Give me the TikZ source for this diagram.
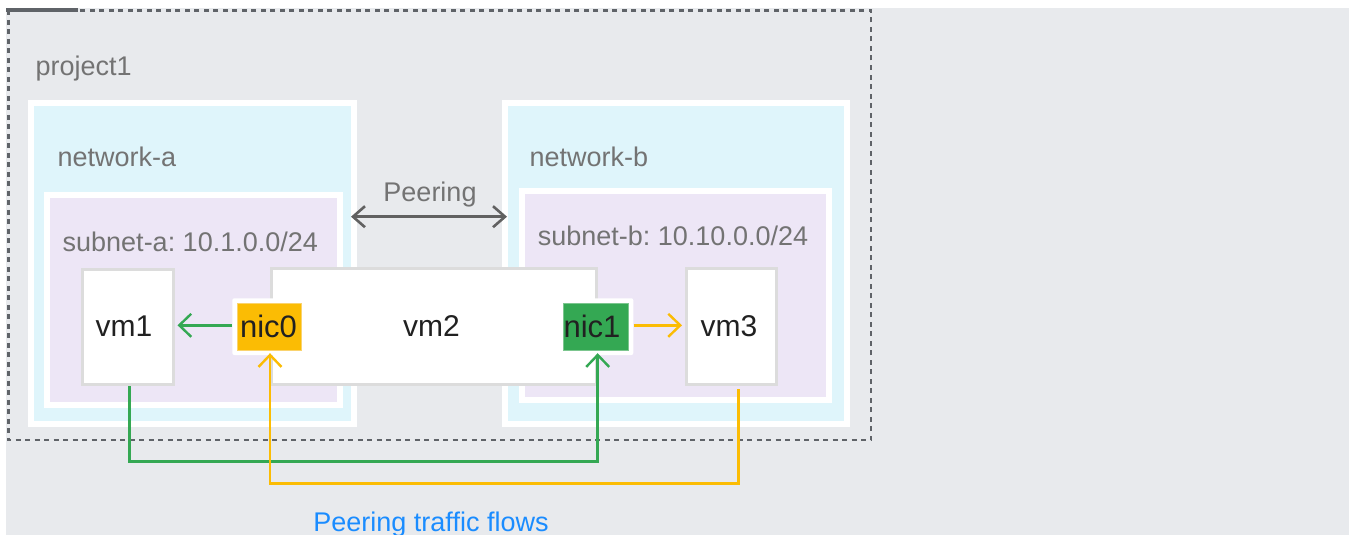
\documentclass[tikz,border=0pt]{standalone}
\usepackage{fontspec}
\setmainfont{Liberation Sans}
\usetikzlibrary{arrows.meta}
\frenchspacing

\definecolor{bggray}{HTML}{E8EAED}
\definecolor{framegray}{HTML}{5F6368}
\definecolor{labelgray}{HTML}{737373}
\definecolor{arrowgray}{HTML}{616161}
\definecolor{netcyan}{HTML}{DFF5FB}
\definecolor{sublav}{HTML}{EDE6F6}
\definecolor{vmborder}{HTML}{DCDCDC}
\definecolor{nicyellow}{HTML}{FBBC04}
\definecolor{nicyellowedge}{HTML}{FAD36E}
\definecolor{nicgreen}{HTML}{34A853}
\definecolor{nicgreenedge}{HTML}{7CC68F}
\definecolor{flowblue}{HTML}{1A8CFF}
\definecolor{textdark}{HTML}{212121}

\tikzset{
  netbox/.style={draw=white, line width=6pt, fill=netcyan, inner sep=0pt},
  subbox/.style={draw=white, line width=6pt, fill=sublav, inner sep=0pt},
  vmbox/.style={draw=vmborder, line width=3pt, fill=white, inner sep=0pt},
  nicpanel/.style={fill=white, rounded corners=2pt, inner sep=0pt},
  nicbox/.style={line width=0.8pt, inner sep=0pt},
  graylabel/.style={text=labelgray, inner sep=0pt,
    font=\fontsize{27}{31}\selectfont},
  vmtext/.style={text=textdark, inner sep=0pt, anchor=base,
    font=\fontsize{30}{35}\selectfont},
  nictext/.style={text=textdark, inner sep=0pt, anchor=base,
    font=\fontsize{31}{36}\selectfont},
  flow/.style={line width=2.6pt, line join=miter,
    -{Straight Barb[length=12pt,width=23pt,line width=2.4pt]}},
  gflow/.style={flow, draw=nicgreen},
  yflow/.style={flow, draw=nicyellow},
  peerlink/.style={line width=2.6pt, draw=arrowgray,
    {Straight Barb[length=12pt,width=21pt,line width=2.6pt]}-{Straight Barb[length=12pt,width=21pt,line width=2.6pt]}}
}

\begin{document}
\begin{tikzpicture}[x=1pt, y=-1pt]
\useasboundingbox (0,0) rectangle (1349,535);

% canvas and project frame
\fill[bggray] (6,8) rectangle (1349,535);
\draw[framegray, line width=2.6pt, dash pattern=on 5pt off 4.5pt]
  (8.2,10.3) rectangle (871,440);
\fill[framegray] (6,8.3) rectangle (77.7,12);
\node[graylabel, anchor=base west] (proj) at (35.5,75) {project1};

% VPC networks
\node[netbox, minimum width=322.7pt, minimum height=321pt] (neta) at (192.65,263.5) {};
\node[netbox, minimum width=342.5pt, minimum height=321pt] (netb) at (675.75,263.5) {};
\node[graylabel, anchor=base west] (netalbl) at (57.5,166.6) {network-a};
\node[graylabel, anchor=base west] (netblbl) at (529.3,166.6) {network-b};

% subnets
\node[subbox, minimum width=293pt, minimum height=210pt] (suba) at (193,300) {};
\node[subbox, minimum width=307.5pt, minimum height=209pt] (subb) at (675.25,295.5) {};
\node[graylabel, anchor=base west] (subalbl) at (62.5,251.6) {subnet-a: 10.1.0.0/24};
\node[graylabel, anchor=base west] (subblbl) at (537.7,245.7) {subnet-b: 10.10.0.0/24};

% peering between the networks
\coordinate (peerL) at (351,216.7);
\coordinate (peerR) at (507,216.7);
\draw[peerlink] (peerL) -- (peerR);
\node[graylabel, anchor=base] (peerlbl) at (430,201.7) {Peering};

% virtual machines
\node[vmbox, minimum width=90.5pt, minimum height=115.5pt] (vm1) at (127.75,326.75) {};
\node[vmbox, minimum width=325pt, minimum height=116pt] (vm2) at (434,326.5) {};
\node[vmbox, minimum width=90pt, minimum height=116pt] (vm3) at (731.5,326.5) {};
\node[vmtext] (vm1txt) at (124,336.7) {vm1};
\node[vmtext] (vm2txt) at (431.5,336.7) {vm2};
\node[vmtext] (vm3txt) at (729,336.7) {vm3};

% network interfaces of vm2
\node[nicpanel, minimum width=70.7pt, minimum height=56.7pt] (nic0p) at (267.65,326.65) {};
\node[nicpanel, minimum width=71.6pt, minimum height=56.7pt] (nic1p) at (597.5,326.65) {};
\node[nicbox, fill=nicyellow, draw=nicyellowedge, minimum width=64pt, minimum height=46.7pt] (nic0) at (269.7,326.65) {};
\node[nicbox, fill=nicgreen, draw=nicgreenedge, minimum width=65pt, minimum height=47pt] (nic1) at (595.8,326.5) {};
\node[nictext] (nic0txt) at (268.5,337.3) {nic0};
\node[nictext] (nic1txt) at (592,337.2) {nic1};

% local traffic from each interface
\draw[gflow, shorten >=3pt] (nic0p.west |- 0,325.3) -- (vm1.east |- 0,325.3);
\draw[yflow, shorten >=3pt] (nic1p.east |- 0,325.3) -- (vm3.west |- 0,325.3);

% peering traffic paths
\coordinate (gturn) at (129.5,461.3);
\coordinate (yturn) at (738.5,483.5);
\draw[gflow, shorten >=-2pt] (vm1.south -| gturn) -- (gturn) -| (nic1p.south -| 597.7,0);
\draw[yflow, shorten >=-2pt] ([yshift=-3pt]vm3.south -| yturn) -- (yturn) -| (nic0p.south -| 270,0);

\node[text=flowblue, inner sep=0pt, anchor=base, font=\fontsize{27}{32}\selectfont]
  (flows) at (431,531) {Peering traffic flows};
\end{tikzpicture}
\end{document}
